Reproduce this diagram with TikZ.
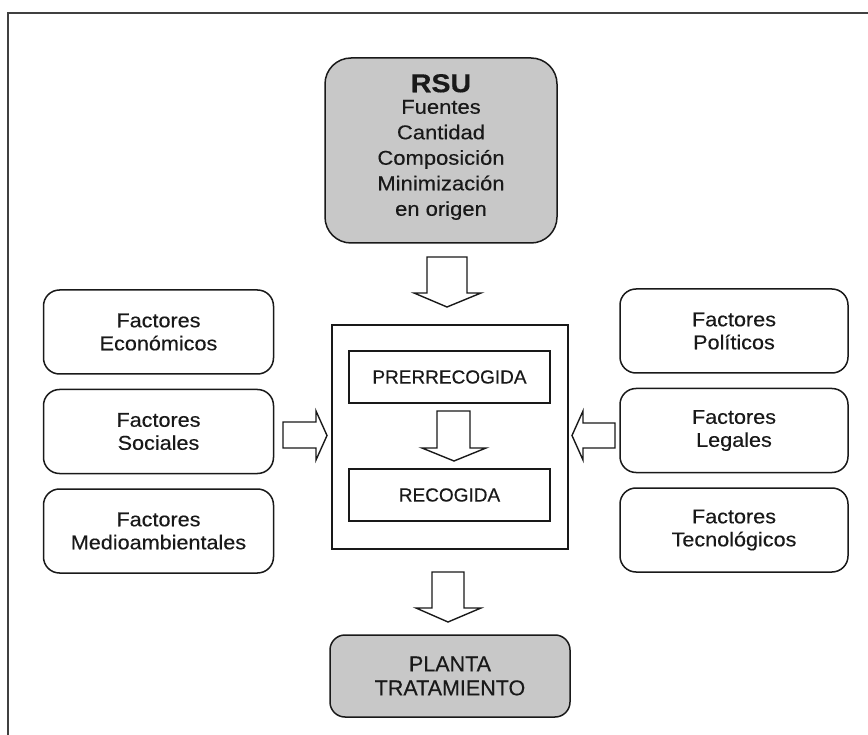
\documentclass[tikz,border=0pt]{standalone}
\usepackage{fontspec}
\setmainfont{Liberation Sans}[FakeStretch=1.08,FakeBold=0.35]
\newfontfamily\rsufont{Liberation Sans}[FakeStretch=1.1,FakeBold=0.35]
\newfontfamily\capsfont{Liberation Sans}[FakeBold=0.35]
\definecolor{boxgray}{RGB}{200,200,200}
\definecolor{inkc}{RGB}{25,25,25}
\begin{document}
\begin{tikzpicture}[x=1pt,y=-1pt,
  boxline/.style={draw=inkc,line width=1.5pt},
  factorbox/.style={boxline,rounded corners=16pt,minimum width=230pt,minimum height=84pt,
     align=center,inner sep=0pt,font=\fontsize{20}{23}\selectfont,text=inkc},
  stagebox/.style={boxline,minimum width=201pt,minimum height=52pt,inner sep=0pt,
     font=\capsfont\fontsize{19}{23}\selectfont,text=inkc},
  blockarrow/.style={draw=inkc,line width=1.4pt,fill=white,line join=miter},
  frameline/.style={draw=black!75,line width=2pt}]
\useasboundingbox (0,0) rectangle (868,735);
% frame (top and left only)
\draw[frameline] (7.5,735) -- (7.5,13.5) -- (868,13.5);

% RSU box
\node[boxline,fill=boxgray,rounded corners=26pt,minimum width=232pt,minimum height=185pt,inner sep=0pt] (rsu) at (441,150.5) {};
\node[align=center,inner sep=0pt,text=inkc,font=\rsufont\fontsize{20}{25.5}\selectfont] (rsutext) at (441,147)
  {{\bfseries\fontsize{26}{25.5}\selectfont RSU}\\[-4pt]Fuentes\\Cantidad\\Composición\\Minimización\\en origen};

% central box
\node[boxline,minimum width=236pt,minimum height=224pt,inner sep=0pt] (centre) at (450,437) {};
\node[stagebox] (pre) at (449.5,377) {PRERRECOGIDA};
\node[stagebox] (rec) at (449.5,495) {RECOGIDA};

% planta
\node[boxline,fill=boxgray,rounded corners=15pt,minimum width=240pt,minimum height=82pt,inner sep=0pt,
  align=center,text=inkc,font=\capsfont\fontsize{21.5}{24}\selectfont] (planta) at (450,676) {PLANTA\\TRATAMIENTO};

% factor boxes left
\node[factorbox] (eco) at (158.5,332) {Factores\\Económicos};
\node[factorbox] (soc) at (158.5,431.5) {Factores\\Sociales};
\node[factorbox] (med) at (158.5,531) {Factores\\Medioambientales};
% factor boxes right
\node[factorbox,minimum width=228pt] (pol) at (734,331) {Factores\\Políticos};
\node[factorbox,minimum width=228pt] (leg) at (734,430.5) {Factores\\Legales};
\node[factorbox,minimum width=228pt] (tec) at (734,530) {Factores\\Tecnológicos};

% block arrows
% RSU -> centre
\draw[blockarrow] (427,257) -- (467,257) -- (467,293) -- (481,293) -- (447,307) -- (414,293) -- (427,293) -- cycle;
% PRERRECOGIDA -> RECOGIDA
\draw[blockarrow] (437,411) -- (470,411) -- (470,448) -- (486,448) -- (454,461) -- (422,448) -- (437,448) -- cycle;
% centre -> planta
\draw[blockarrow] (432,572) -- (464,572) -- (464,608) -- (481,608) -- (448,622) -- (416,608) -- (432,608) -- cycle;
% left -> centre
\draw[blockarrow] (283,422) -- (316,422) -- (316,411) -- (327,435.5) -- (316,460) -- (316,448) -- (283,448) -- cycle;
% right -> centre
\draw[blockarrow] (615,423) -- (583,423) -- (583,411) -- (572,435.5) -- (583,460) -- (583,448) -- (615,448) -- cycle;
\end{tikzpicture}
\end{document}
